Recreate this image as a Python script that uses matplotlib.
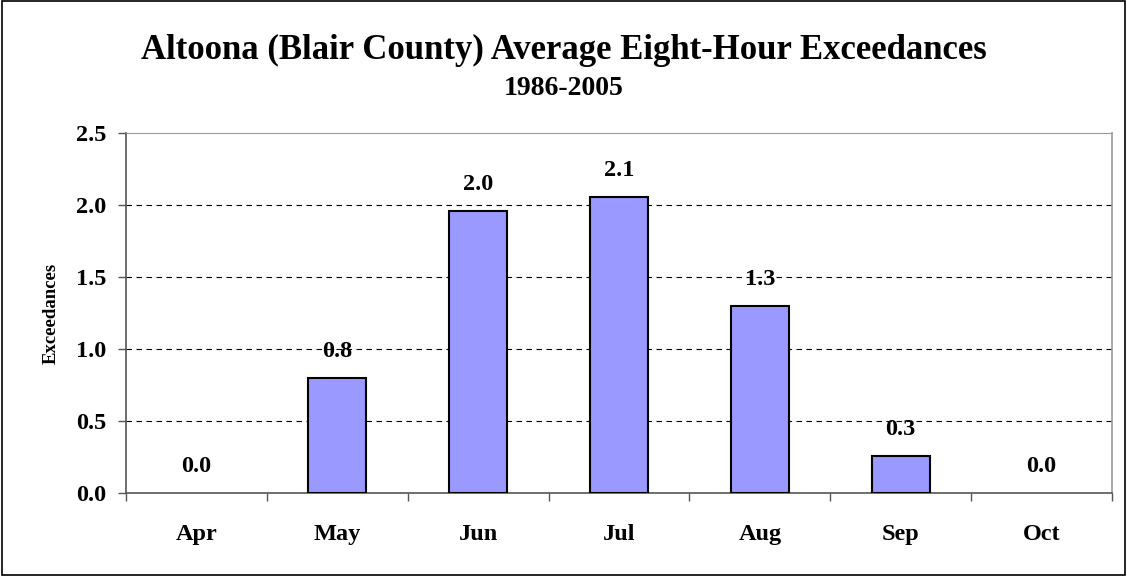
import matplotlib.pyplot as plt
import numpy as np
from matplotlib.patches import Rectangle

# Average eight-hour exceedances by month, 1986-2005
months = ["Apr", "May", "Jun", "Jul", "Aug", "Sep", "Oct"]
exceedances = [0.0, 0.8, 1.96, 2.06, 1.3, 0.26, 0.0]

plt.rcParams["font.family"] = ["Liberation Serif", "DejaVu Serif"]
plt.rcParams["font.weight"] = "bold"

fig = plt.figure(figsize=(11.27, 5.76), dpi=100)
ax = fig.add_axes([0.1118, 0.1435, 0.8749, 0.6250])

x = np.arange(len(months))
# zero-height bars get no outline, as in the original
widths = [1.5 if v > 0 else 0 for v in exceedances]
ax.bar(x, exceedances, 0.41, color="#9999FF", edgecolor="black", linewidth=widths, zorder=3)

for xi, v in zip(x, exceedances):
    ax.annotate(f"{v:.1f}", (xi, v), xytext=(0, 19), textcoords="offset points",
                ha="center", va="center", fontsize=17.5, fontweight="bold", zorder=4)

ax.set_xlim(-0.5, len(months) - 0.5)
ax.set_ylim(0, 2.5)
yt = np.arange(0, 2.51, 0.5)
ax.set_yticks(yt)
ax.set_yticklabels([f"{t:.1f}" for t in yt], fontsize=17.5, fontweight="bold")
ax.set_xticks(x)
ax.set_xticklabels(months, fontsize=17.5, fontweight="bold")
ax.set_xticks(np.arange(-0.5, len(months), 1.0), minor=True)
ax.tick_params(axis="x", which="major", length=0, pad=22)
ax.tick_params(axis="x", which="minor", length=6, width=1, color="#555555", direction="out")
ax.tick_params(axis="y", length=6, width=1, color="#555555", direction="out", pad=8)

for y in [0.5, 1.0, 1.5, 2.0]:
    ax.axhline(y, color="black", linestyle=(0, (5, 4)), linewidth=0.8, zorder=1)

ax.spines["left"].set_color("#555555")
ax.spines["bottom"].set_color("#555555")
ax.spines["left"].set_linewidth(1.2)
ax.spines["bottom"].set_linewidth(1.2)
ax.spines["top"].set_color("#999999")
ax.spines["right"].set_color("#999999")
ax.spines["right"].set_linewidth(1.2)

ax.set_ylabel("Exceedances", fontsize=13.5, fontweight="bold", labelpad=12)

fig.text(0.5, 0.912, "Altoona (Blair County) Average Eight-Hour Exceedances",
         ha="center", va="center", fontsize=25, fontweight="bold")
fig.text(0.5, 0.847, "1986-2005", ha="center", va="center", fontsize=20, fontweight="bold")

fig.patches.append(Rectangle((0.002, 0.002), 0.996, 0.996, transform=fig.transFigure,
                             fill=False, edgecolor="black", linewidth=1.2))

fig.savefig("out.png", dpi=100)
